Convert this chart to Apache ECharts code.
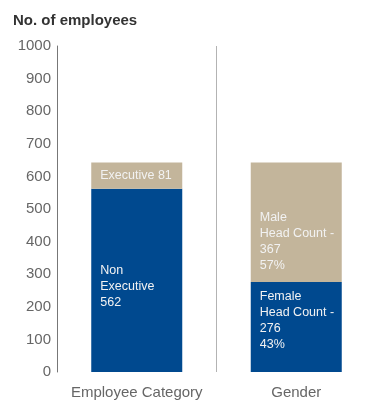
<!DOCTYPE html>
<html>
<head>
<meta charset="utf-8">
<script src="https://cdn.jsdelivr.net/npm/echarts@6/dist/echarts.min.js"></script>
<style>
  html, body { margin: 0; padding: 0; background: #fff; }
  #chart { width: 376px; height: 403px; }
</style>
</head>
<body>
<div id="chart"></div>
<script>
// Head-count breakdown: by employee category and by gender
const categories = ['Employee Category', 'Gender'];
const lowerValues = [562, 276];   // Non Executive, Female
const upperValues = [81, 367];    // Executive, Male
const lowerNames = ['Non\nExecutive', 'Female\nHead Count -'];
const upperNames = ['Executive', 'Male\nHead Count -'];
const showShare = [false, true];
const yTicks = [0, 100, 200, 300, 400, 500, 600, 700, 800, 900, 1000];

const BLUE = '#00498f';
const TAN = '#c3b59b';
const FONT = '"Liberation Sans", Arial, Helvetica, sans-serif';

function labelText(names, values, other, i) {
  const v = values[i];
  if (!showShare[i]) {
    return names[i].indexOf('\n') >= 0 ? names[i] + '\n' + v : names[i] + ' ' + v;
  }
  const pct = Math.round(v / (v + other[i]) * 100);
  return names[i] + '\n' + v + '\n' + pct + '%';
}

const lowerOffsets = [[0, 6], [0, -6]];
const upperOffsets = [[0, 0], [0, 19]];

function buildData(values, names, other, offsets) {
  return values.map((v, i) => ({
    value: v,
    label: {
      formatter: labelText(names, values, other, i),
      offset: offsets[i]
    }
  }));
}

const labelBase = {
  show: true,
  position: 'insideLeft',
  distance: 9,
  color: '#f2f2f2',
  fontFamily: FONT,
  fontSize: 12.5,
  lineHeight: 16,
  align: 'left'
};

const chart = echarts.init(document.getElementById('chart'), null, { renderer: 'canvas' });
chart.setOption({
  animation: false,
  backgroundColor: '#ffffff',
  title: {
    text: 'No. of employees',
    left: 8,
    top: 8,
    textStyle: { fontFamily: FONT, fontSize: 15, fontWeight: 'bold', color: '#333333' }
  },
  grid: { left: 57, top: 46, width: 322, bottom: 31, containLabel: false },
  xAxis: {
    type: 'category',
    data: categories,
    z: 1,
    axisLine: { show: false },
    axisTick: { show: false, interval: 0 },
    axisLabel: { interval: 0, hideOverlap: false, fontFamily: FONT, fontSize: 15, color: '#666666', margin: 13 },
    splitLine: { show: true, interval: 0, lineStyle: { color: '#b3b3b3', width: 1 } }
  },
  yAxis: {
    type: 'value',
    z: 5,
    min: yTicks[0],
    max: yTicks[yTicks.length - 1],
    interval: yTicks[1] - yTicks[0],
    axisLine: { show: true, lineStyle: { color: '#777777', width: 1 } },
    axisTick: { show: false },
    splitLine: { show: false },
    axisLabel: { fontFamily: FONT, fontSize: 15, color: '#666666', margin: 6, formatter: v => String(v) }
  },
  series: [
    {
      type: 'bar',
      stack: 'total',
      barWidth: 91,
      itemStyle: { color: BLUE },
      label: labelBase,
      data: buildData(lowerValues, lowerNames, upperValues, lowerOffsets)
    },
    {
      type: 'bar',
      stack: 'total',
      barWidth: 91,
      itemStyle: { color: TAN },
      label: labelBase,
      data: buildData(upperValues, upperNames, lowerValues, upperOffsets)
    }
  ]
});
</script>
</body>
</html>
